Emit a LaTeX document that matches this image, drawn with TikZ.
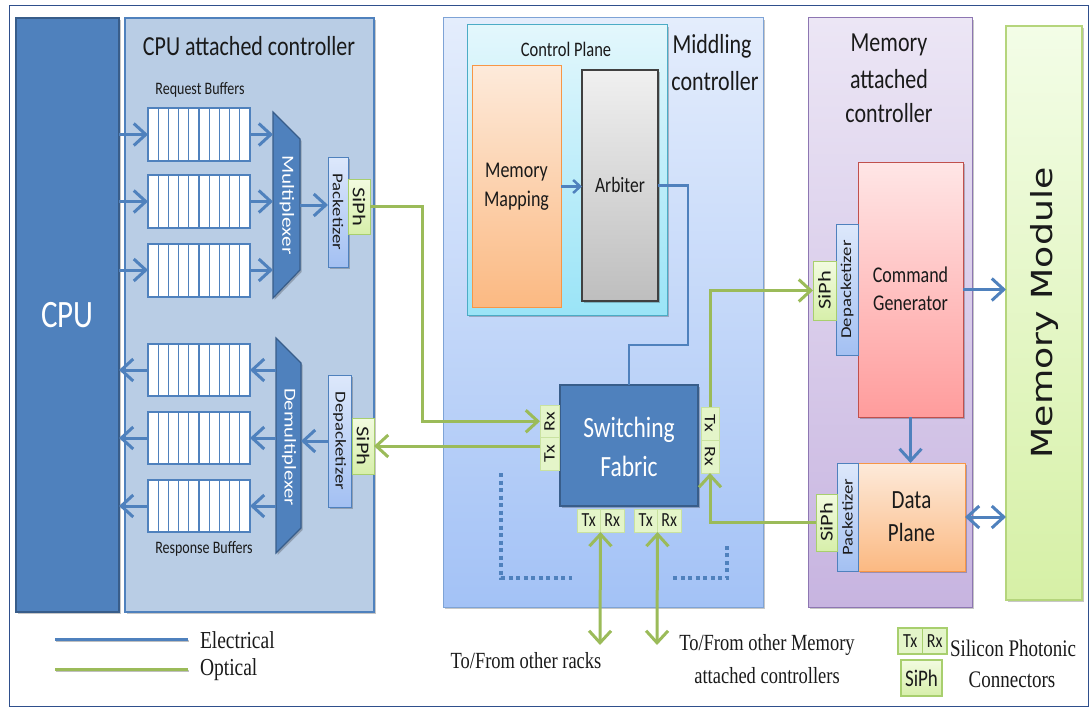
\documentclass[tikz,border=0pt]{standalone}
\usepackage{fontspec}
\usepackage{graphicx}
\setmainfont{Liberation Serif}
\setsansfont{Carlito}
\newfontfamily\modfont{DejaVu Sans}
\usetikzlibrary{arrows.meta,shadows,calc}

\definecolor{ink}{HTML}{1A1A1A}
\definecolor{eblue}{HTML}{4F81BD}
\definecolor{eblued}{HTML}{385D8A}
\definecolor{ogreen}{HTML}{9BBB59}
\definecolor{framec}{HTML}{2F4F8C}
\definecolor{ctlfill}{HTML}{B9CDE5}
\definecolor{midtop}{HTML}{E4EDFC}
\definecolor{midbot}{HTML}{A3C2F6}
\definecolor{midline}{HTML}{7EA3D6}
\definecolor{cptop}{HTML}{E3F7FC}
\definecolor{cpbot}{HTML}{9AE4F7}
\definecolor{cpline}{HTML}{4BACC6}
\definecolor{orgtop}{HTML}{FDEADA}
\definecolor{orgbot}{HTML}{FBB982}
\definecolor{orgline}{HTML}{F79646}
\definecolor{arbtop}{HTML}{F0F0F0}
\definecolor{arbbot}{HTML}{BEBEBE}
\definecolor{arbline}{HTML}{404040}
\definecolor{pktop}{HTML}{DDE8FB}
\definecolor{pkbot}{HTML}{A3C0F2}
\definecolor{sitop}{HTML}{F2FBE0}
\definecolor{sibot}{HTML}{D7EFAA}
\definecolor{siline}{HTML}{A8CF6E}
\definecolor{txfill}{HTML}{E4F5C9}
\definecolor{txline}{HTML}{C9E2A0}
\definecolor{memtop}{HTML}{ECE6F5}
\definecolor{membot}{HTML}{C7B4E0}
\definecolor{memline}{HTML}{8D76B2}
\definecolor{cgtop}{HTML}{FFE6E6}
\definecolor{cgbot}{HTML}{FF9C9C}
\definecolor{cgline}{HTML}{C0504D}
\definecolor{modtop}{HTML}{F3FDE7}
\definecolor{modbot}{HTML}{D6F0A6}
\definecolor{modline}{HTML}{B5D57C}

\newcommand{\fsz}[1]{\fontsize{#1}{#1}\selectfont}
% tall, narrow lettering: horizontal labels stretched upward, vertical labels stretched lengthwise
\newcommand{\hstr}[1]{\scalebox{1}[1.25]{#1}}
\newcommand{\vstr}[1]{\scalebox{1.25}[1]{#1}}

\begin{document}
\begin{tikzpicture}[x=1pt,y=-1pt,
  every node/.style={inner sep=0pt,outer sep=0pt,font=\sffamily,text=ink},
  sz/.style 2 args={minimum width=#1,minimum height=#2},
  sh/.style={drop shadow={shadow xshift=1.5pt,shadow yshift=-2pt,opacity=0.22,fill=black}},
  cpubox/.style={fill=eblue,draw=eblued,line width=1.5pt},
  ctlbox/.style={fill=ctlfill,draw=eblue,line width=2pt},
  buf/.style={fill=white,draw=eblue,line width=2pt},
  muxbox/.style={fill=eblue,draw=eblued,line width=1.2pt},
  midbox/.style={top color=midtop,bottom color=midbot,draw=midline,line width=1pt},
  cpbox/.style={top color=cptop,bottom color=cpbot,draw=cpline,line width=1pt},
  orgbox/.style={top color=orgtop,bottom color=orgbot,draw=orgline,line width=1pt},
  arbbox/.style={top color=arbtop,bottom color=arbbot,draw=arbline,line width=1.2pt},
  pkbox/.style={top color=pktop,bottom color=pkbot,draw=eblue,line width=1pt},
  sibox/.style={top color=sitop,bottom color=sibot,draw=siline,line width=1pt},
  txbox/.style={fill=txfill,draw=txline,line width=0.8pt},
  membox/.style={top color=memtop,bottom color=membot,draw=memline,line width=1pt},
  cgbox/.style={top color=cgtop,bottom color=cgbot,draw=cgline,line width=1pt},
  modbox/.style={top color=modtop,bottom color=modbot,draw=modline,line width=2pt},
  el/.style={draw=eblue,line width=3pt},
  op/.style={draw=ogreen,line width=3pt},
  barb/.tip={Straight Barb[length=12pt,width=22pt,line width=3pt]},
  tip/.style={-barb},
  dtip/.style={barb-barb},
  dots/.style={draw=eblue,line width=4pt,dash pattern=on 4pt off 3.5pt},
  lbl/.style={text=ink},
  wlbl/.style={text=white}
]
\useasboundingbox (0,0) rectangle (1090,709);
\fill[white] (0,0) rectangle (1090,709);
\draw[framec,line width=1pt] (9,5.5) rectangle (1088,706.5);

% ---------------- CPU and CPU attached controller ----------------
\node[cpubox,sh,sz={103}{594}] (cpu) at (67.5,315) {};
\node[wlbl] at (cpu) {\fsz{31}\hstr{CPU}};
\node[ctlbox,sh,sz={249}{594}] (cpuctl) at (249.5,315) {};
\node[lbl] at (249,46) {\fsz{22}\hstr{CPU attached controller}};
\node[lbl] at (200,90) {\fsz{14}\hstr{Request Buffers}};
\node[lbl] at (204,549) {\fsz{14}\hstr{Response Buffers}};

% buffers
\node[buf,sz={102}{53}] (rq1) at (199,134.5) {};
\node[buf,sz={102}{53}] (rq2) at (199,201.5) {};
\node[buf,sz={102}{53}] (rq3) at (199,270) {};
\node[buf,sz={102}{52}] (rs1) at (199,370) {};
\node[buf,sz={102}{52}] (rs2) at (199,438) {};
\node[buf,sz={102}{52}] (rs3) at (199,506) {};
\foreach \b in {rq1,rq2,rq3,rs1,rs2,rs3}{
  \foreach \i in {1,...,9}{
    \draw[eblue,line width=1.3pt] ($(\b.north west)!\i/10!(\b.north east)$) -- ($(\b.south west)!\i/10!(\b.south east)$);
  }
}

% multiplexer / demultiplexer
\draw[muxbox,sh] (273,112) -- (300,139) -- (300,270) -- (273,298) -- cycle;
\node[sz={27}{186}] (mux) at (286.5,205) {};
\node[wlbl,rotate=-90] at (287,205) {\fsz{17}\vstr{Multiplexer}};
\draw[muxbox,sh] (276,338) -- (301,363) -- (301,528) -- (276,553) -- cycle;
\node[sz={25}{215}] (dmx) at (288.5,445.5) {};
\node[wlbl,rotate=-90] at (289,447) {\fsz{16.5}\vstr{Demultiplexer}};

% packetizer side
\node[pkbox,sh,sz={20}{110}] (pkt1) at (338,212) {};
\node[lbl,rotate=-90] at (pkt1) {\fsz{15}\vstr{Packetizer}};
\node[sibox,sz={22}{55}] (siph1) at (359,206.5) {};
\node[lbl,rotate=-90] at (siph1) {\fsz{18}\vstr{SiPh}};
\node[pkbox,sh,sz={23}{132}] (depkt1) at (339.5,441) {};
\node[lbl,rotate=-90] at (depkt1) {\fsz{15}\vstr{Depacketizer}};
\node[sibox,sz={22}{56}] (siph2) at (363,446) {};
\node[lbl,rotate=-90] at (siph2) {\fsz{18}\vstr{SiPh}};

% electrical links inside CPU attached controller
\foreach \b in {rq1,rq2,rq3}{
  \draw[el,tip] (\b.west -| cpu.east) -- (\b.west);
  \draw[el,tip] (\b.east) -- (\b.east -| mux.west);
}
\foreach \b in {rs1,rs2,rs3}{
  \draw[el,tip] (\b.east -| dmx.west) -- (\b.east);
  \draw[el,tip] (\b.west) -- (\b.west -| cpu.east);
}
\draw[el,tip] (mux.east) -- (mux.east -| pkt1.west);
\draw[el,tip] (depkt1.west) -- (depkt1.west -| dmx.east);

% ---------------- Middling controller ----------------
\node[midbox,sh,sz={320}{589}] (mid) at (603,312.5) {};
\node[lbl] at (712,46) {\fsz{22}\hstr{Middling}};
\node[lbl] at (715,81) {\fsz{22}\hstr{controller}};
\node[cpbox,sh,sz={200}{290}] (cp) at (567,170) {};
\node[lbl] at (566,49) {\fsz{16.5}\hstr{Control Plane}};
\node[orgbox,sz={89}{241}] (mm) at (516.5,186.5) {};
\node[lbl,align=center,font=\sffamily\fontsize{18}{29}\selectfont] at (516.5,187) {\hstr{Memory}\\\hstr{Mapping}};
\node[arbbox,sh,sz={76}{231}] (arb) at (620,185.5) {};
\node[lbl] at (620,185) {\fsz{17.5}\hstr{Arbiter}};
\draw[el,line width=2.5pt,-{Straight Barb[length=7pt,width=13pt]}] (mm.east) -- (mm.east -| arb.west);

\node[muxbox,line width=2pt,sh,sz={138}{121}] (sf) at (629,445.5) {};
\node[wlbl,align=center,font=\sffamily\fontsize{23.5}{39}\selectfont] at (629,447) {\hstr{Switching}\\\hstr{Fabric}};
\coordinate (arbturn) at (688,345);
\draw[el,line width=2.5pt] (arb.east) -| (arbturn) -| (sf.north);

% transceivers around the switching fabric
\node[txbox,sz={19}{32.5}] (rxL) at (549.5,421.25) {};
\node[txbox,sz={19}{32.5}] (txL) at (549.5,453.75) {};
\node[lbl,rotate=90] at (rxL) {\fsz{16}\vstr{Rx}};
\node[lbl,rotate=90] at (txL) {\fsz{16}\vstr{Tx}};
\node[txbox,sz={18}{33}] (txR) at (710,423.5) {};
\node[txbox,sz={18}{33}] (rxR) at (710,456.5) {};
\node[lbl,rotate=-90] at (txR) {\fsz{16}\vstr{Tx}};
\node[lbl,rotate=-90] at (rxR) {\fsz{16}\vstr{Rx}};
\node[sz={47}{23}] (bx1) at (600.5,520.5) {};
\node[sz={47}{23}] (bx2) at (657.5,520.5) {};
\node[txbox,sz={23.5}{23}] (txB1) at (588.75,520.5) {};
\node[txbox,sz={23.5}{23}] (rxB1) at (612.25,520.5) {};
\node[txbox,sz={23.5}{23}] (txB2) at (645.75,520.5) {};
\node[txbox,sz={23.5}{23}] (rxB2) at (669.25,520.5) {};
\foreach \n/\t in {txB1/Tx,rxB1/Rx,txB2/Tx,rxB2/Rx}{
  \node[lbl] at (\n) {\fsz{16}\hstr{\t}};
}

% dotted brackets inside the middling controller
\draw[dots] (501,473) -- (501,578) -- (572,578);
\draw[dots] (673,578) -- (727,578) -- (727,543);

% ---------------- Memory attached controller ----------------
\node[membox,sh,sz={164}{589}] (memc) at (890,312.5) {};
\node[lbl] at (889,45) {\fsz{22}\hstr{Memory}};
\node[lbl] at (889,79) {\fsz{22}\hstr{attached}};
\node[lbl] at (889,113) {\fsz{22}\hstr{controller}};
\node[cgbox,sh,sz={105}{255}] (cg) at (910.5,289.5) {};
\node[lbl,align=center,font=\sffamily\fontsize{18}{28}\selectfont] at (910.5,289) {\hstr{Command}\\\hstr{Generator}};
\node[pkbox,sz={22}{131}] (depkt2) at (847,289.5) {};
\node[lbl,rotate=90] at (depkt2) {\fsz{15}\vstr{Depacketizer}};
\node[sibox,sz={23}{59}] (siph3) at (824.5,290.5) {};
\node[lbl,rotate=90] at (siph3) {\fsz{18}\vstr{SiPh}};
\node[orgbox,sh,sz={107}{108}] (dp) at (911.5,517) {};
\node[lbl,align=center,font=\sffamily\fontsize{21}{33}\selectfont] at (911.5,517) {\hstr{Data}\\\hstr{Plane}};
\node[pkbox,sz={21}{108}] (pkt2) at (847.5,517) {};
\node[lbl,rotate=90] at (pkt2) {\fsz{15}\vstr{Packetizer}};
\node[sibox,sz={21}{57}] (siph4) at (826.5,522.5) {};
\node[lbl,rotate=90] at (siph4) {\fsz{18}\vstr{SiPh}};

% ---------------- Memory module ----------------
\node[modbox,sh,sz={76}{574}] (mod) at (1044,313) {};
\node[lbl,rotate=90] at (mod) {\modfont\fsz{29}\vstr{Memory Module}};

\draw[el,tip] (cg.east) -- (cg.east -| mod.west);
\draw[el,tip] (cg.south) -- (cg.south |- dp.north);
\draw[el,dtip] (dp.east) -- (dp.east -| mod.west);

% ---------------- Optical links ----------------
\coordinate (upL) at (422,206.5);
\draw[op,tip] (siph1.east) -- (upL) |- (rxL.west);
\draw[op,tip] (txL.west |- siph2.east) -- (siph2.east);
\draw[op,tip] (txR.north) |- (siph3.west);
\draw[op,tip] (siph4.west) -| (rxR.south);
\coordinate (racks) at (600,645);
\coordinate (others) at (657,645);
\draw[op,dtip] (bx1.south) -- (racks);
\draw[op,dtip] (bx2.south) -- (others);

% ---------------- Labels and legend ----------------
\node[lbl,font=\rmfamily] at (526,661) {\fsz{18.5}\hstr{To/From other racks}};
\node[lbl,font=\rmfamily] at (767,645) {\fsz{18.5}\hstr{To/From other Memory}};
\node[lbl,font=\rmfamily] at (767,676) {\fsz{18.5}\hstr{attached controllers}};

\draw[black!25,line width=2.5pt] (56,641) -- (189,641);
\draw[black!25,line width=2.5pt] (56,671) -- (189,671);
\coordinate (le1) at (55,639);
\coordinate (le2) at (188,639);
\coordinate (lo1) at (55,669);
\coordinate (lo2) at (188,669);
\draw[el] (le1) -- (le2);
\draw[op] (lo1) -- (lo2);
\node[lbl,font=\rmfamily,anchor=west] at (200,640) {\fsz{19.5}\hstr{Electrical}};
\node[lbl,font=\rmfamily,anchor=west] at (200,670) {\fsz{19.5}\hstr{Optical}};

\node[txbox,draw=siline,line width=1.2pt,sz={24.5}{26}] (lgtx) at (910.25,641) {};
\node[txbox,draw=siline,line width=1.2pt,sz={24.5}{26}] (lgrx) at (934.75,641) {};
\node[lbl] at (lgtx) {\fsz{16}\hstr{Tx}};
\node[lbl] at (lgrx) {\fsz{16}\hstr{Rx}};
\node[sibox,line width=1.5pt,sz={41}{36}] (lgsi) at (921.5,678) {};
\node[lbl] at (lgsi) {\fsz{19}\hstr{SiPh}};
\node[lbl,font=\rmfamily,anchor=west] at (950,648) {\fsz{19}\hstr{Silicon Photonic}};
\node[lbl,font=\rmfamily] at (1012,680) {\fsz{19}\hstr{Connectors}};
\end{tikzpicture}
\end{document}
